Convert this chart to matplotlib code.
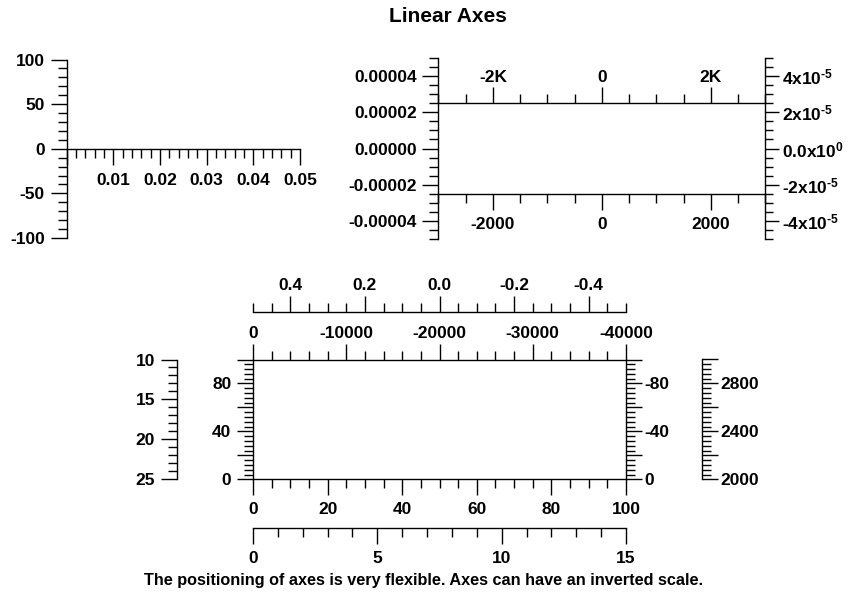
import matplotlib
matplotlib.use('Agg')
import matplotlib.pyplot as plt
from matplotlib.ticker import MultipleLocator, FuncFormatter

W, H = 848, 596
plt.rcParams['font.family'] = ['Liberation Sans', 'DejaVu Sans']
plt.rcParams['font.weight'] = 'bold'
plt.rcParams['axes.unicode_minus'] = False
plt.rcParams['mathtext.fontset'] = 'custom'
plt.rcParams['mathtext.rm'] = 'Liberation Sans:bold'
plt.rcParams['mathtext.it'] = 'Liberation Sans:bold'
plt.rcParams['mathtext.bf'] = 'Liberation Sans:bold'
plt.rcParams['mathtext.default'] = 'rm'

# ---------------- data ----------------
title = 'Linear Axes'
caption = 'The positioning of axes is very flexible. Axes can have an inverted scale.'

# panel 1 (top left)
p1_x_lim = (0, 0.05)
p1_x_major, p1_x_minor = 0.01, 0.002
p1_x_vals = [0.01, 0.02, 0.03, 0.04, 0.05]
p1_x_text = ['0.01', '0.02', '0.03', '0.04', '0.05']
p1_y_lim = (-100, 100)
p1_y_major, p1_y_minor = 50, 10
p1_y_vals = [100, 50, 0, -50, -100]
p1_y_text = ['100', '50', '0', '-50', '-100']

# panel 2 (top right)
p2_x_lim = (-3000, 3000)
p2_x_major, p2_x_minor = 2000, 500
p2_x_vals = [-2000, 0, 2000]
p2_xb_text = ['-2000', '0', '2000']
p2_xt_text = ['-2K', '0', '2K']
p2_y_lim = (-5e-5, 5e-5)
p2_y_major, p2_y_minor = 2e-5, 5e-6
p2_y_vals = [4e-5, 2e-5, 0, -2e-5, -4e-5]
p2_yl_text = ['0.00004', '0.00002', '0.00000', '-0.00002', '-0.00004']
p2_yr_text = [r'4x10$^{\text{-5}}$', r'2x10$^{\text{-5}}$', r'0.0x10$^{0}$',
              r'-2x10$^{\text{-5}}$', r'-4x10$^{\text{-5}}$']
p2_plot_y = (-2.5e-5, 2.5e-5)

# panel 3 (bottom)
p3_xb_lim = (0, 100); p3_xb_major, p3_xb_minor = 20, 5
p3_xb_vals = [0, 20, 40, 60, 80, 100]
p3_xb_text = ['0', '20', '40', '60', '80', '100']
p3_xt_lim = (0, -40000); p3_xt_major, p3_xt_minor = 10000, 2000
p3_xt_vals = [0, -10000, -20000, -30000, -40000]
p3_xt_text = ['0', '-10000', '-20000', '-30000', '-40000']
p3_xt2_lim = (0.5, -0.5); p3_xt2_major, p3_xt2_minor = 0.2, 0.05
p3_xt2_vals = [0.4, 0.2, 0.0, -0.2, -0.4]
p3_xt2_text = ['0.4', '0.2', '0.0', '-0.2', '-0.4']
p3_xb2_lim = (0, 15); p3_xb2_major, p3_xb2_minor = 5, 1
p3_xb2_vals = [0, 5, 10, 15]
p3_xb2_text = ['0', '5', '10', '15']
p3_yl_lim = (0, 100); p3_yl_major, p3_yl_minor = 20, 4
p3_yl_vals = [0, 40, 80]
p3_yl_text = ['0', '40', '80']
p3_yr_lim = (0, -100); p3_yr_major, p3_yr_minor = 20, 4
p3_yr_vals = [0, -40, -80]
p3_yr_text = ['0', '-40', '-80']
p3_yl2_lim = (25, 10); p3_yl2_major, p3_yl2_minor = 5, 1
p3_yl2_vals = [10, 15, 20, 25]
p3_yl2_text = ['10', '15', '20', '25']
p3_yr2_lim = (2000, 3000); p3_yr2_major, p3_yr2_minor = 200, 40
p3_yr2_vals = [2000, 2400, 2800]
p3_yr2_text = ['2000', '2400', '2800']

# ---------------- helpers ----------------
LS = 12.5   # label size (pt)
LW = 1.0
MAJ, MIN = 11.5, 6.5


def px_rect(x0, y0, x1, y1):
    return [x0 / W, 1 - y1 / H, (x1 - x0) / W, (y1 - y0) / H]


def fmt(vals, texts, span):
    tol = abs(span) * 1e-6

    def f(v, pos):
        for a, t in zip(vals, texts):
            if abs(v - a) < tol:
                return t
        return ''
    return FuncFormatter(f)


def new_ax(fig, rect, spines):
    ax = fig.add_axes(rect)
    ax.set_facecolor('none')
    for s in ['left', 'right', 'top', 'bottom']:
        ax.spines[s].set_visible(s in spines)
        ax.spines[s].set_linewidth(LW)
        ax.spines[s].set_color('black')
    ax.tick_params(which='major', length=MAJ, width=LW, direction='out',
                   labelsize=LS, pad=4, colors='black')
    ax.tick_params(which='minor', length=MIN, width=LW, direction='out',
                   colors='black')
    return ax


def setup(axis, lim_setter, lim, major, minor, vals, texts):
    lim_setter(*lim)
    axis.set_major_locator(MultipleLocator(major))
    axis.set_minor_locator(MultipleLocator(minor))
    axis.set_major_formatter(fmt(vals, texts, lim[1] - lim[0]))


def hide_x(ax):
    ax.xaxis.set_ticks([])


def hide_y(ax):
    ax.yaxis.set_ticks([])


fig = plt.figure(figsize=(W / 100, H / 100), dpi=100)
fig.patch.set_facecolor('white')

# ---------- panel 1 ----------
ax1 = new_ax(fig, px_rect(66.5, 59.5, 300, 238), ['left', 'bottom'])
setup(ax1.xaxis, ax1.set_xlim, p1_x_lim, p1_x_major, p1_x_minor, p1_x_vals, p1_x_text)
setup(ax1.yaxis, ax1.set_ylim, p1_y_lim, p1_y_major, p1_y_minor, p1_y_vals, p1_y_text)
ax1.spines['bottom'].set_position(('data', 0))
ax1.tick_params(axis='x', pad=6)

# ---------- panel 2 ----------
r2 = px_rect(438.5, 58, 765.5, 239)
ax2a = new_ax(fig, r2, ['left', 'bottom'])
setup(ax2a.xaxis, ax2a.set_xlim, p2_x_lim, p2_x_major, p2_x_minor, p2_x_vals, p2_xb_text)
setup(ax2a.yaxis, ax2a.set_ylim, p2_y_lim, p2_y_major, p2_y_minor, p2_y_vals, p2_yl_text)
ax2a.spines['bottom'].set_position(('data', p2_plot_y[0]))
ax2a.tick_params(axis='x', pad=5)

ax2b = new_ax(fig, r2, ['right', 'top'])
setup(ax2b.xaxis, ax2b.set_xlim, p2_x_lim, p2_x_major, p2_x_minor, p2_x_vals, p2_xt_text)
setup(ax2b.yaxis, ax2b.set_ylim, p2_y_lim, p2_y_major, p2_y_minor, p2_y_vals, p2_yr_text)
ax2b.spines['top'].set_position(('data', p2_plot_y[1]))
ax2b.xaxis.set_ticks_position('top')
ax2b.yaxis.set_ticks_position('right')
ax2b.tick_params(axis='x', pad=2)
ax2b.tick_params(axis='y', pad=2)
ax2b.tick_params(axis='y', which='major', length=10)
ax2b.tick_params(axis='y', which='minor', length=6)

# ---------- panel 3 ----------
r3 = px_rect(253, 359.5, 626, 479.3)
ax3 = new_ax(fig, r3, ['left', 'bottom'])
setup(ax3.xaxis, ax3.set_xlim, p3_xb_lim, p3_xb_major, p3_xb_minor, p3_xb_vals, p3_xb_text)
setup(ax3.yaxis, ax3.set_ylim, p3_yl_lim, p3_yl_major, p3_yl_minor, p3_yl_vals, p3_yl_text)
ax3.tick_params(axis='x', pad=5)

ax3b = new_ax(fig, r3, ['right', 'top'])
setup(ax3b.xaxis, ax3b.set_xlim, p3_xt_lim, p3_xt_major, p3_xt_minor, p3_xt_vals, p3_xt_text)
setup(ax3b.yaxis, ax3b.set_ylim, p3_yr_lim, p3_yr_major, p3_yr_minor, p3_yr_vals, p3_yr_text)
ax3b.xaxis.set_ticks_position('top')
ax3b.yaxis.set_ticks_position('right')
ax3b.tick_params(axis='x', pad=2)
ax3b.tick_params(axis='y', pad=2)

ax3c = new_ax(fig, px_rect(253, 311.7, 626, 321.7), ['top'])
setup(ax3c.xaxis, ax3c.set_xlim, p3_xt2_lim, p3_xt2_major, p3_xt2_minor, p3_xt2_vals, p3_xt2_text)
ax3c.xaxis.set_ticks_position('top')
ax3c.tick_params(axis='x', pad=2)
hide_y(ax3c)

ax3d = new_ax(fig, px_rect(253, 517.7, 626, 527.7), ['bottom'])
setup(ax3d.xaxis, ax3d.set_xlim, p3_xb2_lim, p3_xb2_major, p3_xb2_minor, p3_xb2_vals, p3_xb2_text)
ax3d.tick_params(axis='x', pad=5)
hide_y(ax3d)

ax3e = new_ax(fig, px_rect(176.7, 359.5, 186.7, 479.3), ['left'])
setup(ax3e.yaxis, ax3e.set_ylim, p3_yl2_lim, p3_yl2_major, p3_yl2_minor, p3_yl2_vals, p3_yl2_text)
hide_x(ax3e)

ax3f = new_ax(fig, px_rect(692, 359.5, 702, 479.3), ['right'])
setup(ax3f.yaxis, ax3f.set_ylim, p3_yr2_lim, p3_yr2_major, p3_yr2_minor, p3_yr2_vals, p3_yr2_text)
ax3f.yaxis.set_ticks_position('right')
ax3f.tick_params(axis='y', pad=2)
hide_x(ax3f)

# ---------- texts ----------
fig.text(448 / W, 1 - 17 / H, title, ha='center', va='center',
         fontsize=15, fontweight='bold')
fig.text(424 / W, 1 - 581 / H, caption, ha='center', va='center',
         fontsize=11.7, fontweight='bold')

fig.savefig('out.png', dpi=100, facecolor='white')
